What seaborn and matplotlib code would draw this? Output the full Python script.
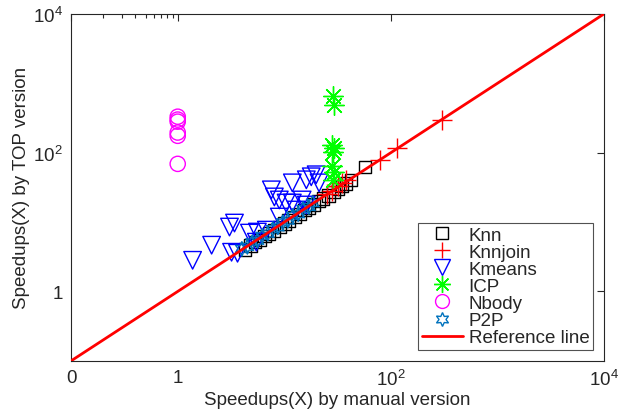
import matplotlib
matplotlib.use("Agg")
import matplotlib.pyplot as plt
import seaborn as sns
import numpy as np
from matplotlib.lines import Line2D
from matplotlib.ticker import FixedLocator, NullFormatter

sns.set_style("white")
plt.rcParams['font.family'] = ['Liberation Sans', 'DejaVu Sans']
plt.rcParams['mathtext.fontset'] = 'custom'
plt.rcParams['mathtext.rm'] = 'Liberation Sans'
plt.rcParams['mathtext.it'] = 'Liberation Sans'

# ---- data ----
knn_x = [4.3, 4.8, 5.3, 5.9, 6.5, 7.2, 8.0, 9.0, 10.0, 11.0, 12.5, 14.0, 15.5, 17.0, 19.0,
         21.0, 23.0, 26.0, 29.0, 32.0, 35.0, 38.0, 42.0, 57.0]
knn_y = [4.0, 4.6, 5.2, 5.5, 6.3, 6.8, 7.6, 8.5, 9.6, 10.5, 11.8, 13.0, 14.8, 16.0, 18.0,
         20.0, 22.0, 24.0, 27.0, 30.0, 33.0, 36.0, 40.0, 62.0]

knnjoin_x = [25.0, 28.0, 32.0, 35.0, 38.0, 79.0, 114.0, 300.0]
knnjoin_y = [25.0, 28.0, 33.0, 36.0, 40.0, 79.0, 118.0, 300.0]

kmeans_x = [1.38, 2.08, 3.06, 3.41, 3.20, 3.64, 4.71, 5.59, 7.56, 8.07, 8.98, 11.9, 10.4, 11.9,
            14.7, 16.1, 17.9, 19.9, 21.2, 8.98, 6.79, 5.47, 12.9, 16.1]
kmeans_y = [2.81, 4.64, 8.47, 9.67, 3.67, 3.55, 6.93, 7.17, 29.1, 23.0, 20.8, 36.7, 18.8, 18.8,
            20.8, 40.6, 44.9, 48.0, 36.7, 11.8, 7.65, 5.13, 14.9, 17.6]

icp_x = [28.5, 29.0, 28.0, 29.5, 28.8, 28.2, 29.2, 28.6]
icp_y = [648.0, 480.0, 131.0, 118.0, 103.0, 65.0, 53.0, 40.0]

nbody_x = [1.0, 1.0, 1.0, 1.0, 1.0, 1.0]
nbody_y = [330.0, 300.0, 280.0, 195.0, 175.0, 69.0]

p2p_x = [4.0, 4.5, 5.0, 5.6, 6.2, 7.0, 7.8, 8.7, 9.7, 10.8, 12.0, 13.5, 15.0, 17.0, 18.5]
p2p_y = [4.1, 4.4, 5.1, 5.4, 6.3, 6.8, 7.9, 8.4, 9.9, 10.5, 12.3, 13.0, 15.4, 16.5, 18.8]

ref_x = [0.1, 1e4]
ref_y = [0.1, 1e4]

xticks = [0.1, 1, 100, 1e4]
xticklabels = ['0', '1', '$10^2$', '$10^4$']
yticks = [1, 100, 1e4]
yticklabels = ['1', '$10^2$', '$10^4$']

# ---- figure ----
fig = plt.figure(figsize=(6.24, 4.14), dpi=100)
ax = fig.add_axes([0.114, 0.126, 0.854, 0.838])

p2p_color = '#0072BD'
hexagram = (6, 1, 0)
asterisk = (8, 2, 0)

sns.scatterplot(x=knn_x, y=knn_y, marker='s', s=80, fc='none', ec='k', linewidth=1, ax=ax)
sns.scatterplot(x=knnjoin_x, y=knnjoin_y, marker='+', s=200, color='r', linewidth=1, ax=ax)
sns.scatterplot(x=kmeans_x, y=kmeans_y, marker='v', s=160, fc='none', ec='b', linewidth=1, ax=ax)
sns.scatterplot(x=icp_x, y=icp_y, marker=asterisk, s=200, color='#00FF00', ec='#00FF00', linewidth=1, ax=ax)
sns.scatterplot(x=nbody_x, y=nbody_y, marker='o', s=120, fc='none', ec='#FF00FF', linewidth=1, ax=ax)
sns.scatterplot(x=p2p_x, y=p2p_y, marker=hexagram, s=110, fc='none', ec=p2p_color, linewidth=1, ax=ax)
sns.lineplot(x=ref_x, y=ref_y, color='r', linewidth=2, ax=ax, zorder=5)

ax.set_xscale('log')
ax.set_yscale('log')
ax.set_xlim(0.1, 1e4)
ax.set_ylim(0.1, 1e4)
ax.set_xticks(xticks)
ax.set_xticklabels(xticklabels)
ax.set_yticks(yticks)
ax.set_yticklabels(yticklabels)
ax.xaxis.set_minor_locator(FixedLocator([0.2, 0.3, 0.4, 0.5, 0.6, 0.7, 0.8, 0.9]))
ax.xaxis.set_minor_formatter(NullFormatter())
ax.yaxis.set_minor_locator(FixedLocator([]))
ax.tick_params(which='both', direction='in', top=True, right=True, colors='#262626',
               labelsize=13.5, labelcolor='#262626')
ax.tick_params(which='major', length=5, width=0.8, pad=6)
ax.tick_params(which='minor', length=3, width=0.8)
for sp in ax.spines.values():
    sp.set_color('#262626')
    sp.set_linewidth(0.8)

ax.set_xlabel('Speedups(X) by manual version', fontsize=13.5, color='#262626', labelpad=1)
ax.set_ylabel('Speedups(X) by TOP version', fontsize=13.5, color='#262626', labelpad=2)

handles = [
    Line2D([], [], ls='none', marker='s', ms=8, mfc='none', mec='k', mew=1),
    Line2D([], [], ls='none', marker='+', ms=12, color='r', mew=1),
    Line2D([], [], ls='none', marker='v', ms=11, mfc='none', mec='b', mew=1),
    Line2D([], [], ls='none', marker=asterisk, ms=12, color='#00FF00', mew=1),
    Line2D([], [], ls='none', marker='o', ms=10, mfc='none', mec='#FF00FF', mew=1),
    Line2D([], [], ls='none', marker=hexagram, ms=10, mfc='none', mec=p2p_color, mew=1),
    Line2D([], [], color='r', lw=2),
]
labels = ['Knn', 'Knnjoin', 'Kmeans', 'ICP', 'Nbody', 'P2P', 'Reference line']
leg = ax.legend(handles, labels, loc='lower right', bbox_to_anchor=(0.99, 0.015),
                fontsize=13.5, frameon=True, fancybox=False, edgecolor='#262626',
                handlelength=2.2, handletextpad=0.3, labelspacing=0.0, borderpad=0.2,
                borderaxespad=0.3)
leg.get_frame().set_linewidth(0.8)

fig.savefig('out.png', dpi=100)
